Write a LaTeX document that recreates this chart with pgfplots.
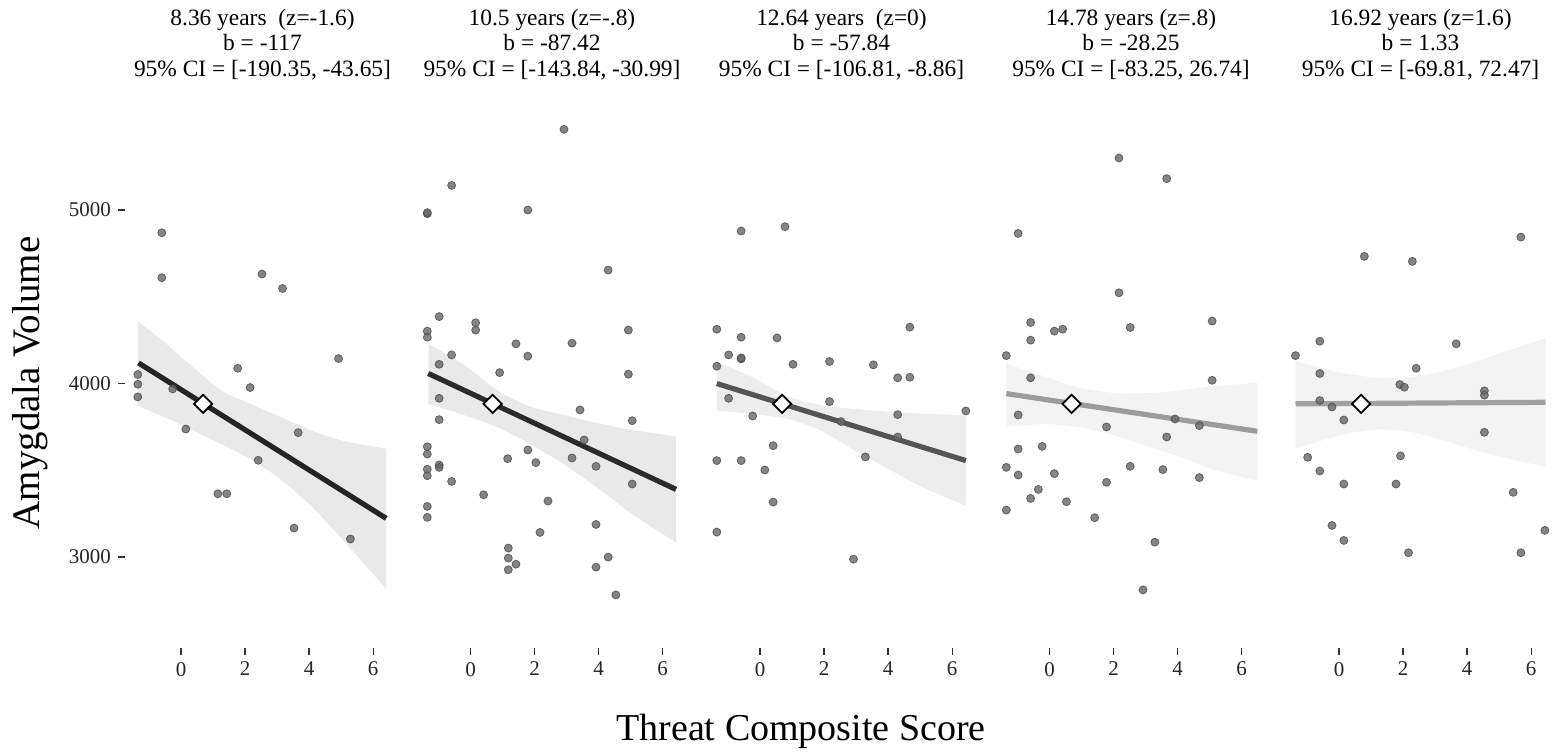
\documentclass[border=0pt]{standalone}
\usepackage{pgfplots}
\pgfplotsset{compat=1.18}
\usepgfplotslibrary{fillbetween}
\usepackage{fontspec}
\setmainfont{Liberation Serif}

\pgfplotsset{
  panel/.style={
    scale only axis, width=137.5pt, height=274pt,
    xmin=-1.75, xmax=6.84, ymin=2476, ymax=5634,
    axis lines*=left, axis line style={draw=none},
    xtick={0,2,4,6}, ytick={3000,4000,5000},
    tick align=outside, major tick length=3.5pt,
    tick style={black!80, line width=0.6pt},
    ticklabel style={font=\fontsize{10.5}{12}\selectfont, text=black!85},
    /pgf/number format/assume math mode=true,
    /pgf/number format/1000 sep={},
    anchor=south west, clip=false,
    title style={at={(0.5,1)}, anchor=south, yshift=4pt, align=center,
      font=\fontsize{11.7}{12.6}\selectfont, inner sep=0pt},
  },
  pts/.style={only marks, mark=*, mark size=2pt,
    mark options={fill=black!60, draw=black!70, line width=0.4pt, opacity=0.8}},
  mean/.style={only marks, mark=square*, mark size=3.2pt,
    mark options={rotate=45, fill=white, draw=black, line width=0.9pt}},
}

\begin{document}
\begin{tikzpicture}

% ---- 8.36 years
\begin{axis}[panel, at={(62.5pt,52pt)},
  title={8.36 years\ \ (z=-1.6)\\b = -117\\95\% CI = [-190.35, -43.65]}]
\addplot[pts] coordinates {
  (-0.60,4869) (-0.60,4610) (2.53,4631) (3.17,4548) (4.92,4144) (1.77,4088)
  (2.16,3977) (-1.35,4052) (-1.35,3996) (-1.35,3923) (-0.26,3969) (0.15,3738)
  (3.66,3717) (2.41,3558) (1.15,3365) (1.43,3365) (3.53,3167) (5.29,3104)
};
\addplot[name path=u1, draw=none, smooth] coordinates {
  (-1.35,4358) (-0.60,4250) (0.44,4083) (1.27,3958) (2.0,3896) (3.04,3812)
  (4.08,3729) (5.13,3667) (6.41,3625)
};
\addplot[name path=l1, draw=none, smooth] coordinates {
  (-1.35,3871) (-0.08,3771) (0.96,3677) (2.0,3583) (3.04,3458) (4.08,3292)
  (5.13,3083) (6.41,2817)
};
\addplot[fill=black!12, fill opacity=0.7, draw=none] fill between[of=u1 and l1];
\addplot[black!86, line width=2.6pt] coordinates {(-1.33,4119) (6.41,3223)};
\addplot[mean] coordinates {(0.69,3883)};
\end{axis}

% ---- 10.5 years
\begin{axis}[panel, at={(207.25pt,52pt)}, ytick=\empty,
  title={10.5 years (z=-.8)\\b = -87.42\\95\% CI = [-143.84, -30.99]}]
\addplot[pts] coordinates {
  (2.92,5465) (-0.59,5142) (-1.35,4979) (-1.35,4985) (1.79,5000) (4.30,4654)
  (-0.98,4386) (-1.35,4302) (-1.35,4267) (0.16,4350) (0.16,4308) (1.42,4229)
  (3.17,4233) (4.93,4308) (-0.59,4165) (-0.98,4111) (1.79,4158) (0.91,4063)
  (4.93,4054) (-0.98,3915) (-0.98,3792) (3.42,3848) (5.05,3786) (3.55,3675)
  (-1.35,3636) (-1.35,3594) (1.16,3567) (1.79,3617) (2.04,3544) (3.17,3571)
  (3.92,3523) (-0.98,3531) (-0.98,3517) (-1.35,3506) (-1.35,3469) (-0.59,3436)
  (5.05,3421) (0.41,3359) (2.42,3323) (-1.35,3292) (-1.35,3229) (2.17,3142)
  (3.92,3188) (1.18,3052) (1.18,2994) (1.42,2959) (1.18,2927) (4.30,3000)
  (3.92,2942) (4.54,2782)
};
\addplot[name path=u2, draw=none, smooth] coordinates {
  (-1.32,4229) (-0.18,4104) (0.86,3958) (1.91,3865) (2.95,3817) (3.99,3771)
  (5.03,3733) (6.42,3696)
};
\addplot[name path=l2, draw=none, smooth] coordinates {
  (-1.32,3883) (-0.18,3817) (0.86,3746) (1.91,3646) (2.95,3531) (3.99,3396)
  (5.03,3250) (6.42,3084)
};
\addplot[fill=black!12, fill opacity=0.7, draw=none] fill between[of=u2 and l2];
\addplot[black!83, line width=2.6pt] coordinates {(-1.32,4058) (6.42,3390)};
\addplot[mean] coordinates {(0.69,3883)};
\end{axis}

% ---- 12.64 years
\begin{axis}[panel, at={(352pt,52pt)}, ytick=\empty,
  title={12.64 years\ \ (z=0)\\b = -57.84\\95\% CI = [-106.81, -8.86]}]
\addplot[pts] coordinates {
  (-0.59,4879) (0.78,4904) (-1.35,4313) (-0.59,4267) (0.53,4263) (4.68,4325)
  (-0.98,4165) (-0.59,4142) (-0.59,4148) (-1.35,4100) (1.03,4111) (2.17,4127)
  (3.54,4108) (4.30,4033) (4.68,4036) (-0.98,3915) (-0.23,3813) (2.17,3896)
  (4.30,3821) (6.43,3842) (2.53,3781) (4.30,3692) (0.41,3642) (3.29,3577)
  (-1.35,3556) (-0.59,3556) (0.15,3502) (0.41,3317) (-1.35,3144) (2.92,2988)
};
\addplot[name path=u3, draw=none, smooth] coordinates {
  (-1.35,4125) (-0.18,4031) (0.86,3927) (1.91,3875) (2.95,3854) (3.99,3838)
  (5.03,3827) (6.43,3817)
};
\addplot[name path=l3, draw=none, smooth] coordinates {
  (-1.35,3844) (-0.18,3823) (0.86,3796) (1.91,3729) (2.95,3615) (3.99,3510)
  (5.03,3406) (6.43,3296)
};
\addplot[fill=black!9, fill opacity=0.8, draw=none] fill between[of=u3 and l3];
\addplot[black!67, line width=2.6pt] coordinates {(-1.35,4000) (6.43,3556)};
\addplot[mean] coordinates {(0.69,3883)};
\end{axis}

% ---- 14.78 years
\begin{axis}[panel, at={(496.75pt,52pt)}, ytick=\empty,
  title={14.78 years (z=.8)\\b = -28.25\\95\% CI = [-83.25, 26.74]}]
\addplot[pts] coordinates {
  (2.17,5300) (3.66,5181) (-0.98,4865) (2.17,4523) (-0.59,4352) (0.15,4302)
  (0.41,4313) (-0.59,4250) (2.52,4323) (5.08,4360) (-1.35,4161) (-0.59,4033)
  (5.08,4019) (-0.98,3819) (1.78,3750) (3.66,3692) (3.92,3796) (4.68,3758)
  (-0.98,3623) (-0.23,3638) (-1.35,3517) (-0.98,3473) (0.15,3481) (2.52,3523)
  (3.54,3504) (4.68,3458) (1.78,3431) (-0.35,3390) (-0.59,3338) (0.53,3319)
  (-1.35,3271) (1.41,3227) (3.29,3086) (2.92,2811)
};
\addplot[name path=u4, draw=none, smooth] coordinates {
  (-1.35,4115) (-0.18,4042) (0.86,3979) (1.91,3948) (2.95,3944) (3.99,3958)
  (5.03,3983) (6.49,4004)
};
\addplot[name path=l4, draw=none, smooth] coordinates {
  (-1.35,3750) (-0.18,3767) (0.86,3750) (1.91,3708) (2.95,3646) (3.99,3583)
  (5.03,3510) (6.49,3438)
};
\addplot[fill=black!6, fill opacity=0.8, draw=none] fill between[of=u4 and l4];
\addplot[black!39, line width=2.6pt] coordinates {(-1.35,3942) (6.49,3725)};
\addplot[mean] coordinates {(0.69,3883)};
\end{axis}

% ---- 16.92 years
\begin{axis}[panel, at={(641.5pt,52pt)}, ytick=\empty,
  title={16.92 years (z=1.6)\\b = 1.33\\95\% CI = [-69.81, 72.47]}]
\addplot[pts] coordinates {
  (5.68,4844) (0.79,4733) (2.29,4704) (-0.60,4244) (3.66,4229) (-1.36,4161)
  (-0.60,4058) (2.41,4088) (1.90,3994) (2.04,3979) (4.54,3958) (4.54,3933)
  (-0.60,3902) (-0.22,3865) (0.15,3790) (4.54,3719) (-0.98,3575) (1.92,3583)
  (-0.60,3496) (0.15,3421) (1.78,3421) (5.44,3373) (-0.22,3182) (0.15,3096)
  (6.43,3154) (2.17,3025) (5.68,3025)
};
\addplot[name path=u5, draw=none, smooth] coordinates {
  (-1.36,4129) (-0.06,4067) (0.98,4038) (2.02,4031) (3.06,4063) (4.10,4115)
  (5.15,4183) (6.45,4260)
};
\addplot[name path=l5, draw=none, smooth] coordinates {
  (-1.36,3625) (-0.06,3698) (0.98,3733) (2.02,3729) (3.06,3683) (4.10,3625)
  (5.15,3573) (6.45,3521)
};
\addplot[fill=black!6, fill opacity=0.8, draw=none] fill between[of=u5 and l5];
\addplot[black!37, line width=2.6pt] coordinates {(-1.36,3883) (6.45,3892)};
\addplot[mean] coordinates {(0.69,3883)};
\end{axis}

\node[rotate=90, font=\fontsize{19.5}{21}\selectfont] at (15pt,184.5pt) {Amygdala Volume};
\node[font=\fontsize{19}{21}\selectfont] at (400.5pt,10.5pt) {Threat Composite Score};

\pgfresetboundingbox
\path[use as bounding box] (0,0) rectangle (778.5pt,376pt);
\end{tikzpicture}
\end{document}
